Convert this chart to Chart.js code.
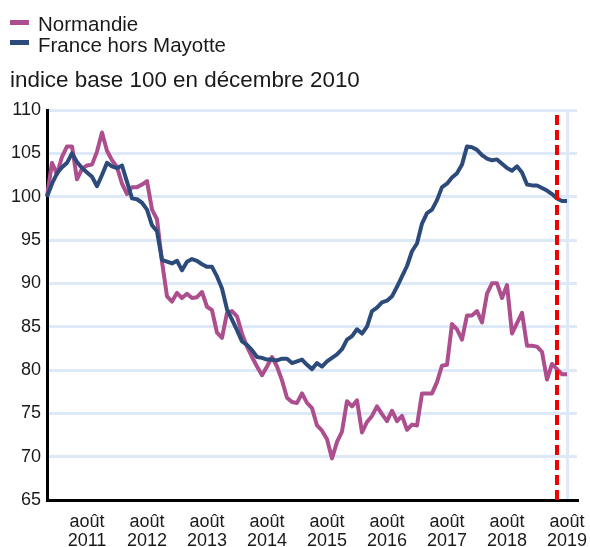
<!DOCTYPE html>
<html lang="fr">
<head>
<meta charset="utf-8">
<title>Normandie / France hors Mayotte</title>
<script src="https://cdn.jsdelivr.net/npm/chart.js@4"></script>
<style>
  body { margin: 0; background: #fff; font-family: 'Liberation Sans', Arial, sans-serif; color: #1a1a1a; }
  #wrap { position: relative; width: 590px; height: 547px; }
  #wrap canvas { position: absolute; left: 0; top: 0; }
  .swatch { position: absolute; left: 10px; width: 19px; height: 5px; }
  .leg { position: absolute; left: 38px; font-size: 20.5px; line-height: 21px; white-space: nowrap; }
  #sous-titre { position: absolute; left: 10px; top: 69px; font-size: 22.4px; line-height: 22px; white-space: nowrap; }
</style>
</head>
<body>
<div id="wrap">
  <canvas id="chart" width="590" height="547"></canvas>
  <div class="swatch" style="top:20px;background:#ad4f8e"></div>
  <div class="leg" style="top:13px">Normandie</div>
  <div class="swatch" style="top:40px;background:#2c4b7b"></div>
  <div class="leg" style="top:34px">France hors Mayotte</div>
  <div id="sous-titre">indice base 100 en décembre 2010</div>
</div>
<script>
// mois de décembre 2010 à octobre 2019
const moisCourts = ['janv.', 'févr.', 'mars', 'avr.', 'mai', 'juin', 'juil.', 'août', 'sept.', 'oct.', 'nov.', 'déc.'];
const mois = [];
for (let a = 2010; a <= 2019; a++) {
  for (let m = 0; m < 12; m++) {
    if ((a === 2010 && m < 11) || (a === 2019 && m > 9)) continue;
    mois.push(moisCourts[m] + ' ' + a);
  }
}

// Normandie, déc. 2010 -> août 2019
const normandie = [
  100.0, 103.9, 102.6, 104.6, 105.8, 105.8, 102.0, 103.2, 103.6, 103.7, 105.2, 107.4,
  105.3, 104.2, 103.4, 101.5, 100.3, 101.1, 101.1, 101.4, 101.8, 98.5, 97.4, 92.5,
  88.5, 87.9, 88.9, 88.3, 88.8, 88.3, 88.4, 89.0, 87.3, 86.9, 84.3, 83.7,
  86.6, 86.8, 86.2, 84.2, 82.7, 81.5, 80.4, 79.4, 80.4, 81.5, 80.4, 78.8,
  76.8, 76.3, 76.2, 77.3, 76.2, 75.6, 73.6, 73.0, 72.0, 69.8, 71.7, 72.9,
  76.4, 75.8, 76.5, 72.8, 74.0, 74.7, 75.8, 74.9, 74.1, 75.3, 74.1, 74.7,
  73.1, 73.7, 73.6, 77.3, 77.3, 77.3, 78.6, 80.5, 80.6, 85.3, 84.7, 83.5,
  86.3, 86.3, 86.8, 85.5, 88.8, 90.0, 90.0, 88.3, 89.8, 84.2, 85.4, 86.6,
  82.8, 82.8, 82.7, 82.1, 78.9, 80.7, 80.1, 79.5, 79.5
];

// France hors Mayotte, déc. 2010 -> août 2019
const france = [
  100.0, 101.5, 102.7, 103.4, 103.9, 105.0, 104.0, 103.3, 102.8, 102.3, 101.2, 102.5,
  103.9, 103.5, 103.3, 103.6, 101.7, 99.8, 99.7, 99.3, 98.5, 96.7, 96.0, 92.7,
  92.5, 92.3, 92.6, 91.5, 92.5, 92.8, 92.6, 92.2, 91.9, 91.9, 90.8, 89.4,
  87.0, 85.8, 84.6, 83.3, 82.9, 82.3, 81.5, 81.4, 81.2, 81.2, 81.1, 81.3,
  81.3, 80.8, 81.0, 81.2, 80.6, 80.1, 80.8, 80.4, 81.0, 81.4, 81.8, 82.4,
  83.5, 83.9, 84.7, 84.2, 85.0, 86.8, 87.2, 87.8, 88.0, 88.5, 89.6, 90.8,
  92.0, 93.7, 94.6, 96.9, 98.1, 98.5, 99.6, 101.1, 101.5, 102.2, 102.7, 103.7,
  105.8, 105.7, 105.4, 104.8, 104.4, 104.2, 104.3, 103.8, 103.3, 103.0, 103.5, 102.8,
  101.4, 101.3, 101.3, 101.0, 100.7, 100.3, 99.8, 99.5, 99.5
];

const dateRepere = 'juin 2019';
const yMin = 65, yMax = 110, yPas = 5;

const grille = '#dde9f6';
const police = { family: "'Liberation Sans', Arial, sans-serif", size: 18 };

const estAout = i => mois[i] !== undefined && mois[i].startsWith('août');

new Chart(document.getElementById('chart').getContext('2d'), {
  type: 'line',
  data: {
    labels: mois,
    datasets: [
      {
        label: 'Normandie',
        data: normandie,
        borderColor: '#ad4f8e',
        borderWidth: 4,
        order: 2
      },
      {
        label: 'France hors Mayotte',
        data: france,
        borderColor: '#2c4b7b',
        borderWidth: 4,
        order: 1
      },
      {
        label: 'repère',
        data: [{ x: dateRepere, y: yMin }, { x: dateRepere, y: yMax }],
        borderColor: '#f00000',
        borderWidth: 4,
        borderDash: [10, 5],
        borderJoinStyle: 'miter',
        order: 0
      }
    ]
  },
  options: {
    responsive: false,
    animation: false,
    events: [],
    layout: { padding: { top: 110, right: 13, left: 0, bottom: 0 } },
    elements: {
      point: { radius: 0 },
      line: { tension: 0, borderJoinStyle: 'round', fill: false }
    },
    plugins: {
      legend: { display: false },
      tooltip: { enabled: false }
    },
    scales: {
      x: {
        type: 'category',
        offset: false,
        afterFit: s => {
          s.height = 47;
          s.paddingLeft = 0;
          s.paddingRight = 0;
        },
        border: { color: '#000', width: 3 },
        grid: {
          drawTicks: false,
          lineWidth: 3,
          color: ctx => estAout(ctx.index) ? grille : 'rgba(0,0,0,0)'
        },
        ticks: {
          autoSkip: false,
          maxRotation: 0,
          minRotation: 0,
          padding: 12,
          color: '#1a1a1a',
          font: { ...police, lineHeight: 1.06 },
          callback: (v, i) => estAout(i) ? mois[i].split(' ') : null
        }
      },
      y: {
        min: yMin,
        max: yMax,
        afterFit: s => { s.width = 47; },
        border: { color: '#000', width: 3 },
        grid: { drawTicks: false, lineWidth: 3, color: grille },
        ticks: {
          stepSize: yPas,
          padding: 6,
          color: '#1a1a1a',
          font: police
        }
      }
    }
  }
});
</script>
</body>
</html>
